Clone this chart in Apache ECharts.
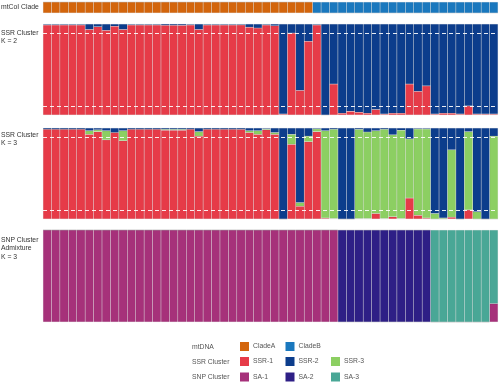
<!DOCTYPE html>
<html>
<head>
<meta charset="utf-8">
<script src="https://cdn.jsdelivr.net/npm/echarts@6/dist/echarts.min.js"></script>
<style>html,body{margin:0;padding:0;background:#fff}#c{width:500px;height:383px}</style>
</head>
<body>
<div id="c"></div>
<script>
// ---- data ----
const samples = ['1','2','3','4','5','6','7','8','9','10','11','12','13','14','15','16','17','18','19','20','21','22','23','24','25','26','27',
  '28','29','30','31','32','33','34','35','36','37','38','39','40','41','42','43','44','45','46','47','48','49','50','51','52','53','54'];
const clade = ['A','A','A','A','A','A','A','A','A','A','A','A','A','A','A','A','A','A','A','A','A','A','A','A','A','A','A','A','A','A','A','A',
  'B','B','B','B','B','B','B','B','B','B','B','B','B','B','B','B','B','B','B','B','B','B'];
// SSR K=2: fraction of SSR-1 (rest SSR-2)
const k2SSR1 = [0.99,0.99,0.99,0.99,0.99,0.94,0.97,0.93,0.975,0.94,0.99,0.99,0.99,0.99,0.985,0.985,0.985,0.99,0.94,0.99,0.99,0.99,0.99,0.99,
  0.965,0.955,0.99,0.98,0.01,0.90,0.27,0.81,0.99,0.0,0.34,0.02,0.04,0.03,0.02,0.06,0.01,0.02,0.02,0.34,0.26,0.32,0.01,0.02,0.02,0.01,0.10,0.01,0.01,0.01];
const k2SSR2 = k2SSR1.map(v => +(1 - v).toFixed(3));
// SSR K=3
const k3SSR1 = [0.985,0.985,0.985,0.985,0.985,0.93,0.96,0.87,0.95,0.86,0.985,0.985,0.985,0.985,0.975,0.975,0.975,0.985,0.91,0.985,0.985,0.985,0.985,0.985,
  0.95,0.93,0.98,0.93,0.0,0.82,0.14,0.85,0.96,0.01,0.005,0.0,0.0,0.005,0.005,0.06,0.005,0.025,0.005,0.23,0.04,0.01,0.0,0.0,0.02,0.0,0.10,0.0,0.0,0.0];
const k3SSR3 = [0.0,0.0,0.0,0.0,0.0,0.04,0.02,0.10,0.0,0.11,0.0,0.0,0.0,0.0,0.01,0.01,0.01,0.0,0.05,0.0,0.0,0.0,0.0,0.0,
  0.02,0.04,0.01,0.02,0.0,0.11,0.04,0.06,0.03,0.96,0.98,0.0,0.0,0.98,0.95,0.91,0.98,0.90,0.97,0.65,0.95,0.98,0.06,0.01,0.74,0.0,0.86,0.08,0.0,0.91];
const k3SSR2 = k3SSR1.map((v, i) => +(1 - v - k3SSR3[i]).toFixed(3));
// SNP admixture K=3
const snpSA1 = [1,1,1,1,1,1,1,1,1,1,1,1,1,1,1,1,1,1,1,1,1,1,1,1,1,1,1,1,1,1,1,1,1,1,1,0,0,0,0,0,0,0,0,0,0,0,0,0,0,0,0,0,0,0.2];
const snpSA2 = [0,0,0,0,0,0,0,0,0,0,0,0,0,0,0,0,0,0,0,0,0,0,0,0,0,0,0,0,0,0,0,0,0,0,0,1,1,1,1,1,1,1,1,1,1,1,0,0,0,0,0,0,0,0];
const snpSA3 = [0,0,0,0,0,0,0,0,0,0,0,0,0,0,0,0,0,0,0,0,0,0,0,0,0,0,0,0,0,0,0,0,0,0,0,0,0,0,0,0,0,0,0,0,0,0,1,1,1,1,1,1,1,0.8];
const thresholds = [0.1, 0.9];
const legendRows = [['CladeA', 'CladeB'], ['SSR-1', 'SSR-2', 'SSR-3'], ['SA-1', 'SA-2', 'SA-3']];
const legendRowTitles = ['mtDNA', 'SSR Cluster', 'SNP Cluster'];

// ---- styles ----
const C = {
  'CladeA': '#D3650C', 'CladeB': '#1A78BE',
  'SSR-1': '#E63B48', 'SSR-2': '#0C3D8C', 'SSR-3': '#8CCF62',
  'SA-1': '#A6317A', 'SA-2': '#2E1F86', 'SA-3': '#49A796'
};
const FONT = 'Liberation Sans, Arial, sans-serif';
const grids = [
  { left: 43, right: 2, top: 2, height: 11 },
  { left: 43, right: 2, top: 24, height: 91 },
  { left: 43, right: 2, top: 128, height: 91 },
  { left: 43, right: 2, top: 230, height: 92 }
];
const xAxes = grids.map((g, i) => ({ type: 'category', gridIndex: i, data: samples, show: false, boundaryGap: true }));
const yAxes = grids.map((g, i) => ({ type: 'value', gridIndex: i, min: 0, max: 1, show: false }));

function bar(name, data, gi, stack, extra) {
  return Object.assign({
    type: 'bar', name: name, data: data, xAxisIndex: gi, yAxisIndex: gi, stack: stack,
    barCategoryGap: '0%', barGap: '0%', animation: false, silent: true,
    itemStyle: { color: C[name], borderColor: 'rgba(0,0,0,0.10)', borderWidth: 0.5 }
  }, extra || {});
}
const dashLine = {
  markLine: {
    silent: true, symbol: 'none', label: { show: false }, animation: false,
    lineStyle: { color: '#ffffff', type: [4, 3], width: 1, opacity: 0.9 },
    data: thresholds.map(t => ({ yAxis: t }))
  }
};

const series = [
  bar('CladeA', clade.map(c => c === 'A' ? 1 : 0), 0, 'mt'),
  bar('CladeB', clade.map(c => c === 'B' ? 1 : 0), 0, 'mt'),
  bar('SSR-1', k2SSR1, 1, 'k2'),
  bar('SSR-2', k2SSR2, 1, 'k2', dashLine),
  bar('SSR-1', k3SSR1, 2, 'k3'),
  bar('SSR-3', k3SSR3, 2, 'k3'),
  bar('SSR-2', k3SSR2, 2, 'k3', dashLine),
  bar('SA-1', snpSA1, 3, 'snp'),
  bar('SA-2', snpSA2, 3, 'snp'),
  bar('SA-3', snpSA3, 3, 'snp')
];

const rowTops = [342, 357, 372.5];
const legends = [];
legendRows.forEach((row, r) => row.forEach((name, k) => legends.push({
  left: 240 + 45.5 * k, top: rowTops[r], data: [name], icon: 'rect', padding: 0,
  itemWidth: 9, itemHeight: 9, selectedMode: false,
  itemStyle: { borderWidth: 0 },
  textStyle: { fontFamily: FONT, fontSize: 6.8, color: '#555', padding: [0, 0, 0, -1] }
})));

const leftLabels = [
  { y: 7.5, t: 'mtCoI Clade' },
  { y: 33, t: 'SSR Cluster\nK = 2' },
  { y: 135, t: 'SSR Cluster\nK = 3' },
  { y: 240, t: 'SNP Cluster\nAdmixture\nK = 3' }
];
const graphics = [];
leftLabels.forEach(l => graphics.push({
  type: 'text', left: 1, top: l.y - 4.5, silent: true,
  style: { text: l.t, font: '6.8px ' + FONT, fill: '#333', lineHeight: 8.6 }
}));
legendRowTitles.forEach((t, r) => graphics.push({
  type: 'text', left: 192, top: rowTops[r] + 1.5, silent: true,
  style: { text: t, font: '6.8px ' + FONT, fill: '#555' }
}));

const chart = echarts.init(document.getElementById('c'), null, { renderer: 'canvas' });
chart.setOption({
  animation: false,
  backgroundColor: '#ffffff',
  grid: grids,
  xAxis: xAxes,
  yAxis: yAxes,
  legend: legends,
  graphic: graphics,
  series: series
});
</script>
</body>
</html>
